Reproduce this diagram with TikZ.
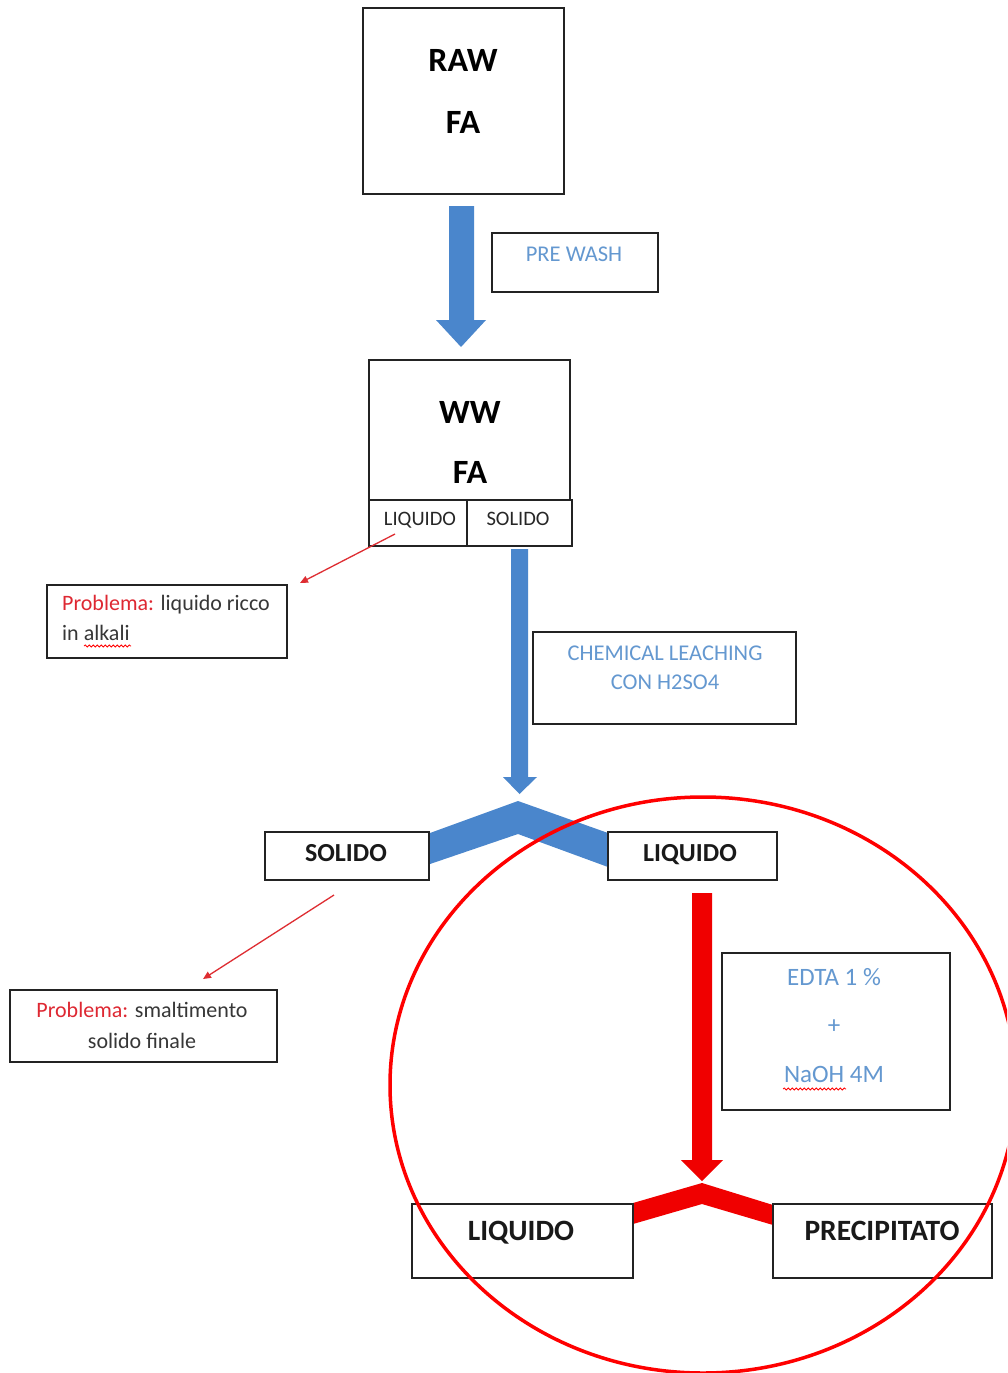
\documentclass[tikz,border=0pt]{standalone}
\usepackage{fontspec}
\setmainfont{Carlito}
\usetikzlibrary{arrows.meta,fit,decorations.pathmorphing}
\definecolor{arrowblue}{RGB}{74,134,204}
\definecolor{labelblue}{RGB}{100,152,208}
\definecolor{boxline}{RGB}{35,35,35}
\definecolor{probred}{RGB}{222,40,50}
\definecolor{bodygray}{RGB}{55,55,55}
\definecolor{thinred}{RGB}{222,45,50}
\definecolor{flowred}{RGB}{240,0,0}
\begin{document}
\begin{tikzpicture}[x=1pt,y=-1pt,
  box/.style={draw=boxline,line width=1.8pt,fill=white,inner sep=0pt},
  txt/.style={inner sep=0pt,anchor=base},
  bigtxt/.style={txt,font=\fontsize{34}{40}\selectfont\bfseries,text=black},
  midtxt/.style={txt,font=\fontsize{26}{30}\selectfont\bfseries,text=black!90},
  lowtxt/.style={txt,font=\fontsize{29.5}{34}\selectfont\bfseries,text=black!90},
  celltxt/.style={txt,font=\fontsize{20.5}{24}\selectfont,text=black!85},
  bluetxt/.style={txt,font=\fontsize{22.5}{26}\selectfont,text=labelblue},
  edtatxt/.style={txt,font=\fontsize{25}{29}\selectfont,text=labelblue},
  probtxt/.style={txt,font=\fontsize{22}{26}\selectfont,text=bodygray},
  thinarrow/.style={draw=thinred,line width=1.3pt,-{Triangle[length=8pt,width=7pt]}},
  wavy/.style={draw=red,line width=0.8pt,decorate,decoration={snake,segment length=4pt,amplitude=1pt}},
  blockblue/.style={fill=arrowblue,draw=none},
  blockred/.style={fill=flowred,draw=none}
]
\useasboundingbox (0,0) rectangle (1007,1373);
\fill[white] (0,0) rectangle (1007,1373);

% ---- block arrows and chevrons (behind boxes)
\fill[blockblue] (449,206) -- (474,206) -- (474,320) -- (486,320) -- (461,347) -- (436,320) -- (449,320) -- cycle;
\fill[blockblue] (511,549) -- (528,549) -- (528,777) -- (537,777) -- (519.5,794) -- (503,777) -- (511,777) -- cycle;
\fill[blockblue] (430,833) -- (518,801) -- (608,833) -- (608,867) -- (518,834) -- (430,864) -- cycle;
\fill[blockred] (692,893) -- (712,893) -- (712,1160) -- (723,1160) -- (702,1181) -- (681,1160) -- (692,1160) -- cycle;
\fill[blockred] (633,1203) -- (702,1183) -- (773,1205) -- (773,1225) -- (702,1204) -- (633,1224) -- cycle;

% ---- boxes
\node[box,fit={(363,8) (564,194)}] (raw) {};
\node[box,fit={(492,233) (658,292)}] (prewash) {};
\node[box,fit={(369,360) (570,500)}] (ww) {};
\node[box,fit={(369,500) (467,546)}] (cellL) {};
\node[box,fit={(467,500) (572,546)}] (cellS) {};
\node[box,fit={(47,585) (287,658)}] (prob1) {};
\node[box,fit={(533,632) (796,724)}] (chem) {};
\node[box,fit={(265,832) (429,880)}] (solido) {};
\node[box,fit={(608,832) (777,880)}] (liquido) {};
\node[box,fit={(10,990) (277,1062)}] (prob2) {};
\node[box,fit={(722,953) (950,1110)}] (edta) {};
\node[box,fit={(412,1204) (633,1278)}] (liq2) {};
\node[box,fit={(773,1204) (992,1278)}] (prec) {};

% ---- texts
\node[bigtxt] (rawA) at (463,71) {RAW};
\node[bigtxt] (rawB) at (463,133) {FA};
\node[bluetxt] (prewashT) at (574,261) {PRE WASH};
\node[bigtxt] (wwA) at (470,423) {WW};
\node[bigtxt] (wwB) at (470,483) {FA};
\node[celltxt] (cellLT) at (420,525.5) {LIQUIDO};
\node[celltxt] (cellST) at (518,525.5) {SOLIDO};
\node[probtxt,anchor=base west] (p1a) at (62,610) {\textcolor{probred}{Problema:} liquido ricco};
\node[probtxt,anchor=base west] (p1b) at (62,640) {in alkali};
\node[bluetxt] (chemA) at (665,660) {CHEMICAL LEACHING};
\node[bluetxt] (chemB) at (665,689) {CON H2SO4};
\node[midtxt] (solT) at (346,861.5) {SOLIDO};
\node[midtxt] (liqT) at (690,861.5) {LIQUIDO};
\node[probtxt] (p2a) at (142,1017) {\textcolor{probred}{Problema:} smaltimento};
\node[probtxt] (p2b) at (142,1048) {solido finale};
\node[edtatxt] (edtaA) at (834,985) {EDTA 1 \%};
\node[edtatxt] (edtaB) at (834,1033) {+};
\node[edtatxt] (edtaC) at (834,1082) {NaOH 4M};
\node[lowtxt] (liq2T) at (521,1240) {LIQUIDO};
\node[lowtxt] (precT) at (882,1240) {PRECIPITATO};

% ---- spell-check wavy underlines
\draw[wavy] (84,646) -- (131,646);
\draw[wavy] (783,1089) -- (846,1089);

% ---- thin red arrows
\coordinate (a1s) at (395,534);
\coordinate (a1e) at (300,583);
\draw[thinarrow] (a1s) -- (a1e);
\coordinate (a2s) at (334,895);
\coordinate (a2e) at (203,979);
\draw[thinarrow] (a2s) -- (a2e);

% ---- red circle highlight
\begin{scope}
\clip (0,0) rectangle (1007,1373);
\draw[red,line width=3.5pt] (703,1085) ellipse [x radius=313pt,y radius=288pt];
\end{scope}
\end{tikzpicture}
\end{document}
